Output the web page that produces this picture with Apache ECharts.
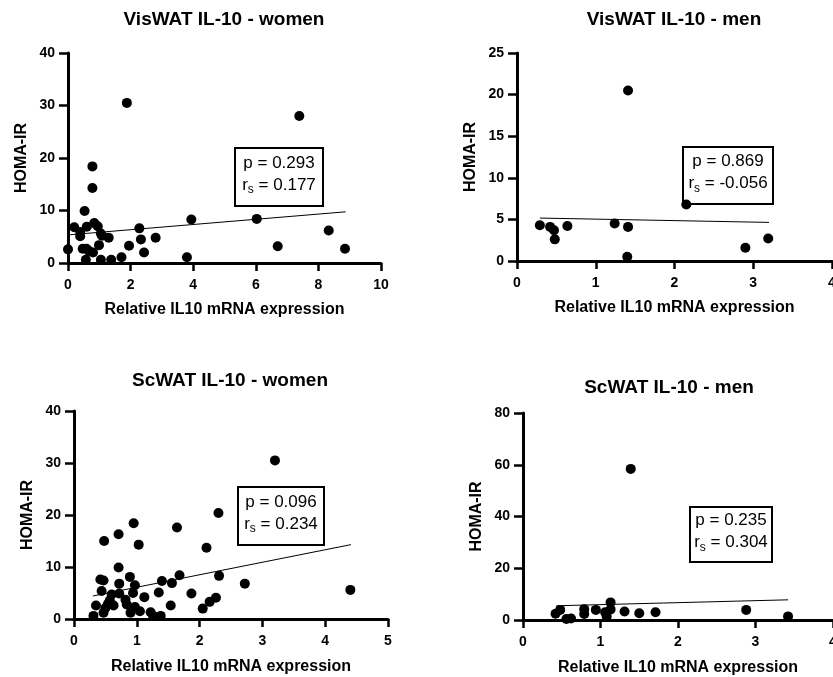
<!DOCTYPE html>
<html>
<head>
<meta charset="utf-8">
<title>IL-10 vs HOMA-IR</title>
<script src="https://cdn.jsdelivr.net/npm/echarts@6/dist/echarts.min.js"></script>
<style>
  html, body { margin: 0; padding: 0; background: #fff; }
  #main { width: 833px; height: 677px; }
</style>
</head>
<body>
<div id="main"></div>
<script>
// panel titles
const titles = ['VisWAT IL-10 - women', 'VisWAT IL-10 - men', 'ScWAT IL-10 - women', 'ScWAT IL-10 - men']

// VisWAT women
const visWomenX = [0, 0.2, 0.39, 0.39, 0.53, 0.47, 0.59, 0.57, 0.6, 0.78, 0.78, 0.84, 0.95, 0.67, 0.8, 0.99, 1.05, 1.05, 1.09, 1.3, 1.38, 1.71, 1.88, 1.95, 2.28, 2.33, 2.43, 2.8, 3.8, 3.94, 6.03, 6.7, 7.39, 8.33, 8.85]
const visWomenY = [2.6, 6.8, 5.9, 5.1, 9.9, 2.7, 2.7, 0.6, 6.9, 18.4, 14.3, 7.6, 7.0, 2.3, 2.0, 3.4, 5.6, 0.6, 5.2, 4.8, 0.6, 1.1, 30.5, 3.3, 6.6, 4.5, 2.0, 4.8, 1.1, 8.3, 8.4, 3.2, 28.0, 6.2, 2.7]
const visWomenFitX = [0, 8.87]
const visWomenFitY = [5.35, 9.75]

// VisWAT men
const visMenX = [0.29, 0.42, 0.47, 0.48, 0.64, 1.24, 1.41, 1.41, 1.4, 2.15, 2.9, 3.19]
const visMenY = [4.3, 4.1, 3.7, 2.6, 4.2, 4.5, 20.5, 4.1, 0.5, 6.8, 1.6, 2.7]
const visMenFitX = [0.29, 3.2]
const visMenFitY = [5.16, 4.64]

// ScWAT women
const scWomenX = [0.31, 0.35, 0.42, 0.47, 0.44, 0.48, 0.47, 0.5, 0.54, 0.57, 0.6, 0.63, 0.71, 0.71, 0.72, 0.72, 0.82, 0.84, 0.89, 0.9, 0.94, 0.95, 0.97, 0.97, 1.03, 1.05, 1.12, 1.22, 1.26, 1.35, 1.38, 1.4, 1.54, 1.56, 1.64, 1.68, 1.87, 2.05, 2.11, 2.16, 2.26, 2.3, 2.31, 2.72, 3.2, 4.4]
const scWomenY = [0.6, 2.6, 7.6, 7.4, 5.4, 15.0, 1.2, 2.1, 2.9, 3.6, 4.7, 2.6, 16.3, 9.9, 6.8, 4.9, 3.7, 2.8, 8.1, 1.2, 5.0, 18.4, 6.5, 2.3, 14.3, 1.5, 4.2, 1.3, 0.6, 5.1, 0.6, 7.3, 2.6, 6.9, 17.6, 8.4, 4.9, 2.0, 13.7, 3.3, 4.1, 20.4, 8.3, 6.8, 30.5, 5.6]
const scWomenFitX = [0.3, 4.41]
const scWomenFitY = [4.42, 14.3]

// ScWAT men
const scMenX = [0.42, 0.48, 0.56, 0.62, 0.79, 0.79, 0.94, 1.06, 1.08, 1.13, 1.13, 1.31, 1.39, 1.5, 1.71, 2.88, 3.42]
const scMenY = [2.4, 3.9, 0.4, 0.6, 4.2, 2.3, 3.9, 3.0, 1.4, 6.8, 4.1, 3.3, 58.4, 2.6, 3.0, 3.9, 1.4]
const scMenFitX = [0.43, 3.42]
const scMenFitY = [5.5, 7.8]

// axis ranges
const xMax = [10, 4, 5, 4]
const xStep = [2, 1, 1, 1]
const yMax = [40, 25, 40, 80]
const yStep = [10, 5, 10, 20]

// spearman stats
const pLabels = ['p = 0.293', 'p = 0.869', 'p = 0.096', 'p = 0.235']
const rsLabels = [' = 0.177', ' = -0.056', ' = 0.234', ' = 0.304']

const xName = 'Relative IL10 mRNA expression'
const yName = 'HOMA-IR'

const pointsX = [visWomenX, visMenX, scWomenX, scMenX]
const pointsY = [visWomenY, visMenY, scWomenY, scMenY]
const fitX = [visWomenFitX, visMenFitX, scWomenFitX, scMenFitX]
const fitY = [visWomenFitY, visMenFitY, scWomenFitY, scMenFitY]

const font = 'Liberation Sans, Arial, sans-serif'

// plot boxes (px)
const grids = [
  { left: 68, top: 53, width: 313, height: 210, outerBoundsMode: 'none' },
  { left: 517, top: 53, width: 315, height: 208, outerBoundsMode: 'none' },
  { left: 74, top: 411, width: 314, height: 208, outerBoundsMode: 'none' },
  { left: 523, top: 413, width: 310, height: 207, outerBoundsMode: 'none' }
]
const nameGaps = [39, 39, 40, 40]
const titlePos = [[224, 20], [674, 20], [230, 381], [669, 388]]
const boxes = [
  [235, 148, 88, 58],
  [683, 147, 90, 57],
  [238, 487, 86, 58],
  [690, 507, 82, 55]
]

const zip = (a, b) => a.map((v, i) => [v, b[i]])

const xAxis = []
const yAxis = []
const series = []
const graphic = []

grids.forEach((g, i) => {
  xAxis.push({
    gridIndex: i,
    type: 'value',
    min: 0,
    max: xMax[i],
    interval: xStep[i],
    name: xName,
    nameLocation: 'middle',
    nameGap: nameGaps[i],
    nameTextStyle: { color: '#000', fontSize: 16, fontWeight: 'bold', fontFamily: font },
    axisLine: { onZero: false, lineStyle: { color: '#000', width: 3 } },
    axisTick: { length: 8, lineStyle: { color: '#000', width: 2.5 } },
    axisLabel: { color: '#000', fontSize: 14, fontWeight: 'bold', fontFamily: font, margin: 15, showMaxLabel: true, hideOverlap: false },
    splitLine: { show: false }
  })
  yAxis.push({
    gridIndex: i,
    type: 'value',
    min: 0,
    max: yMax[i],
    interval: yStep[i],
    name: yName,
    nameLocation: 'middle',
    nameGap: 38,
    nameTextStyle: { color: '#000', fontSize: 16, fontWeight: 'bold', fontFamily: font },
    axisLine: { show: true, onZero: false, lineStyle: { color: '#000', width: 3 } },
    axisTick: { show: true, length: 9, lineStyle: { color: '#000', width: 2.5 } },
    axisLabel: { color: '#000', fontSize: 14, fontWeight: 'bold', fontFamily: font, margin: 13 },
    splitLine: { show: false }
  })
  series.push({
    type: 'line',
    xAxisIndex: i,
    yAxisIndex: i,
    data: zip(fitX[i], fitY[i]),
    symbol: 'none',
    lineStyle: { color: '#000', width: 1 },
    silent: true
  })
  series.push({
    type: 'scatter',
    xAxisIndex: i,
    yAxisIndex: i,
    data: zip(pointsX[i], pointsY[i]),
    symbolSize: 10,
    itemStyle: { color: '#000', opacity: 1 },
    z: 5
  })
  // 标题
  graphic.push({
    type: 'text',
    x: titlePos[i][0],
    y: titlePos[i][1],
    style: {
      text: titles[i],
      align: 'center',
      verticalAlign: 'middle',
      fill: '#000',
      font: 'bold 19px ' + font
    }
  })
  // p / rs box
  const b = boxes[i]
  graphic.push({
    type: 'rect',
    shape: { x: b[0], y: b[1], width: b[2], height: b[3] },
    style: { fill: '#fff', stroke: '#000', lineWidth: 2 },
    z: 1
  })
  graphic.push({
    type: 'text',
    x: b[0] + b[2] / 2,
    y: b[1] + b[3] / 2 - 3,
    z: 2,
    style: {
      text: '{a|' + pLabels[i] + '}\n{a|r}{s|s}{a|' + rsLabels[i] + '}',
      align: 'center',
      verticalAlign: 'middle',
      fill: '#000',
      rich: {
        a: { fontSize: 17, lineHeight: 22, fontFamily: font, fill: '#000', verticalAlign: 'middle' },
        s: { fontSize: 12, lineHeight: 12, fontFamily: font, fill: '#000', verticalAlign: 'bottom' }
      }
    }
  })
})

const chart = echarts.init(document.getElementById('main'))
chart.setOption({
  animation: false,
  backgroundColor: '#fff',
  grid: grids,
  xAxis: xAxis,
  yAxis: yAxis,
  series: series,
  graphic: graphic
})
</script>
</body>
</html>
